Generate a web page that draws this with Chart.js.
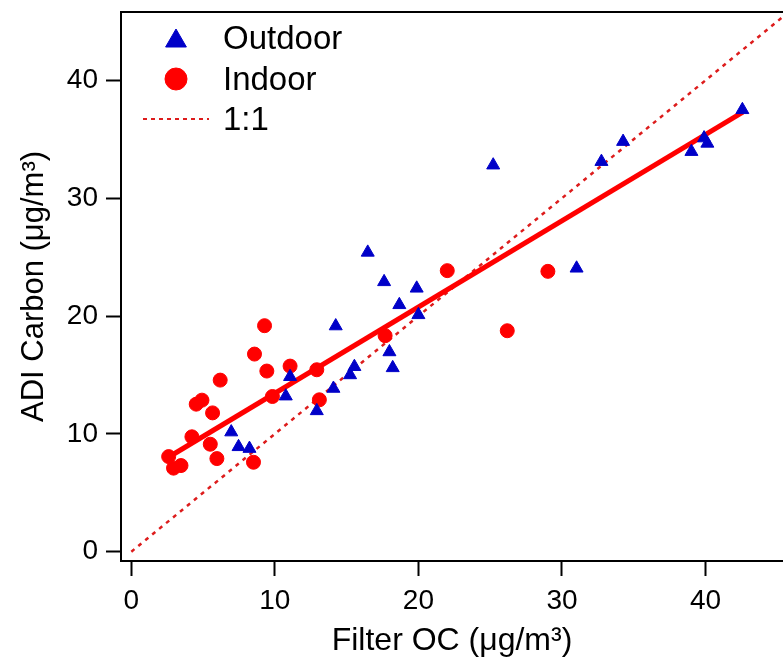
<!DOCTYPE html>
<html>
<head>
<meta charset="utf-8">
<script src="https://cdn.jsdelivr.net/npm/chart.js@4"></script>
<style>
  body { margin: 0; background: #fff; }
  #wrap { width: 783px; height: 666px; }
</style>
</head>
<body>
<div id="wrap"><canvas id="chart" width="783" height="666"></canvas></div>
<script>
// Outdoor samples (blue triangles)
const outdoorX = [6.96, 7.47, 8.23, 10.76, 11.06, 12.92, 14.08, 14.24, 15.24, 15.54, 16.47, 17.61, 17.98,
    18.21, 18.67, 19.88, 20.0, 25.21, 31.02, 32.75, 34.26, 39.02, 39.9, 40.13, 42.57];
const outdoorY = [10.15, 8.9, 8.75, 13.2, 14.85, 11.95, 13.85, 19.15, 15.0, 15.7, 25.4, 22.9, 16.95,
    15.6, 20.95, 22.35, 20.1, 32.8, 24.05, 33.1, 34.8, 33.95, 35.1, 34.65, 37.5];

// Indoor samples (red circles)
const indoorX = [2.6, 2.94, 3.46, 4.22, 4.52, 4.92, 5.5, 5.66, 5.96, 6.19, 8.51, 8.58, 9.28, 9.44,
    9.83, 11.06, 12.92, 13.1, 17.68, 22.01, 26.19, 29.02];
const indoorY = [8.07, 7.09, 7.31, 9.75, 12.52, 12.86, 9.12, 11.78, 7.9, 14.56, 7.59, 16.77, 19.18, 15.33,
    13.17, 15.75, 15.44, 12.89, 18.33, 23.85, 18.75, 23.79];

// regression line end points and the 1:1 reference line
const fitX = [2.7, 42.6];
const fitY = [8.1, 37.3];
const oneToOneX = [0, 46];
const oneToOneY = [0, 46];

const xTicks = [0, 10, 20, 30, 40];
const yTicks = [0, 10, 20, 30, 40];

const FONT = "'Liberation Sans', Arial, sans-serif";
const BLUE = '#0000c8';
const RED = '#ff0000';
const DOT_RED = '#dd1c1c';

function toPoints(xs, ys) {
    return xs.map((x, i) => ({ x: x, y: ys[i] }));
}

// frame line on top + legend in the upper left corner
const framePlugin = {
    id: 'frame',
    afterDraw(chart) {
        const ctx = chart.ctx;
        const a = chart.chartArea;
        ctx.save();
        ctx.strokeStyle = '#000';
        ctx.lineWidth = 2;
        ctx.beginPath();
        ctx.moveTo(a.left - 1, a.top);
        ctx.lineTo(a.right, a.top);
        ctx.stroke();

        // legend
        ctx.font = '33px ' + FONT;
        ctx.textBaseline = 'alphabetic';
        ctx.textAlign = 'left';
        const mx = a.left + 55, tx = a.left + 102;

        ctx.fillStyle = BLUE;
        ctx.strokeStyle = BLUE;
        ctx.lineWidth = 1;
        Chart.helpers.drawPoint(ctx, { pointStyle: 'triangle', radius: 12, rotation: 0, borderWidth: 1 }, mx, a.top + 29);
        ctx.fillStyle = RED;
        ctx.strokeStyle = RED;
        Chart.helpers.drawPoint(ctx, { pointStyle: 'circle', radius: 11, rotation: 0, borderWidth: 1 }, mx, a.top + 67);

        ctx.strokeStyle = DOT_RED;
        ctx.lineWidth = 2;
        ctx.setLineDash([4, 4]);
        ctx.beginPath();
        ctx.moveTo(a.left + 22, a.top + 107);
        ctx.lineTo(a.left + 88, a.top + 107);
        ctx.stroke();
        ctx.setLineDash([]);

        ctx.fillStyle = '#000';
        ctx.fillText('Outdoor', tx, a.top + 37);
        ctx.fillText('Indoor', tx, a.top + 78);
        ctx.fillText('1:1', tx, a.top + 118);
        ctx.restore();
    }
};

const axisCommon = {
    type: 'linear',
    border: { display: true, color: '#000', width: 2 },
    grid: { drawOnChartArea: false, drawTicks: true, tickLength: 15, tickWidth: 2, tickColor: '#000' },
};

function noPad(scale) {
    scale.paddingTop = 0;
    scale.paddingBottom = 0;
    scale.paddingLeft = 0;
    scale.paddingRight = 0;
}

const ctx = document.getElementById('chart').getContext('2d');
const chart = new Chart(ctx, {
    type: 'scatter',
    data: {
        datasets: [
            {
                label: '1:1',
                type: 'line',
                data: toPoints(oneToOneX, oneToOneY),
                borderColor: DOT_RED,
                borderWidth: 2.5,
                borderDash: [4, 5],
                pointRadius: 0,
                fill: false,
                order: 4
            },
            {
                label: 'Fit',
                type: 'line',
                data: toPoints(fitX, fitY),
                borderColor: RED,
                borderWidth: 5,
                pointRadius: 0,
                fill: false,
                order: 3
            },
            {
                label: 'Outdoor',
                data: toPoints(outdoorX, outdoorY),
                pointStyle: 'triangle',
                pointRadius: 7.5,
                backgroundColor: BLUE,
                borderColor: BLUE,
                borderWidth: 1,
                order: 1
            },
            {
                label: 'Indoor',
                data: toPoints(indoorX, indoorY),
                pointStyle: 'circle',
                pointRadius: 7,
                backgroundColor: RED,
                borderColor: RED,
                borderWidth: 1,
                order: 2
            }
        ]
    },
    options: {
        responsive: false,
        animation: false,
        layout: { autoPadding: false, padding: { top: 12, right: 0, left: 0, bottom: 0 } },
        plugins: {
            legend: { display: false },
            tooltip: { enabled: false }
        },
        scales: {
            x: {
                ...axisCommon,
                position: 'bottom',
                min: -0.72,
                max: 45.4,
                ticks: { color: '#000', font: { size: 28, family: FONT }, padding: 8, maxRotation: 0, autoSkip: false },
                title: { display: true, text: 'Filter OC (μg/m³)', color: '#000', font: { size: 32, family: FONT }, padding: { top: 0, bottom: 6 } },
                afterBuildTicks: (scale) => { scale.ticks = xTicks.map(v => ({ value: v })); },
                afterFit: (scale) => { scale.height = 105; noPad(scale); }
            },
            y: {
                ...axisCommon,
                position: 'left',
                min: -0.79,
                max: 45.8,
                ticks: { color: '#000', font: { size: 28, family: FONT }, padding: 8, autoSkip: false },
                title: { display: true, text: 'ADI Carbon (μg/m³)', color: '#000', font: { size: 31, family: FONT }, padding: { top: 16, bottom: 0 } },
                afterBuildTicks: (scale) => { scale.ticks = yTicks.map(v => ({ value: v })); },
                afterFit: (scale) => { scale.width = 121; noPad(scale); }
            }
        }
    },
    plugins: [framePlugin]
});
</script>
</body>
</html>
